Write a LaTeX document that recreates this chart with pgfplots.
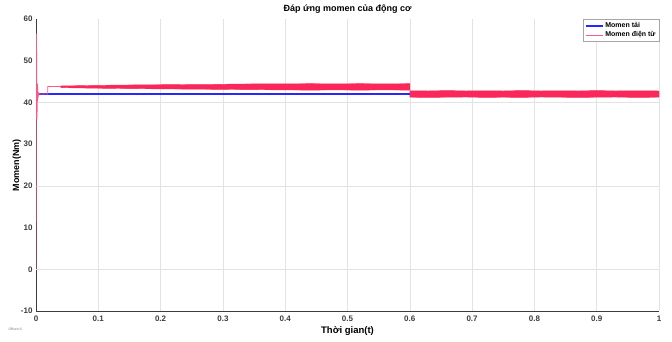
\documentclass[border=0pt]{standalone}
\usepackage{fontspec}
\setmainfont{Liberation Sans}
\usepackage{pgfplots}
\pgfplotsset{compat=1.18}
\definecolor{tai}{RGB}{40,40,250}
\definecolor{dt}{RGB}{250,40,90}
\definecolor{dtl}{RGB}{250,90,130}
\definecolor{tk}{RGB}{60,60,60}
\begin{document}
\begin{tikzpicture}[x=1pt,y=1pt]
\path[use as bounding box] (0,0) rectangle (672,341);
\begin{axis}[
  at={(36pt,30pt)}, anchor=south west,
  scale only axis, width=623pt, height=292pt,
  xmin=0, xmax=1, ymin=-10, ymax=60,
  axis lines*=left,
  axis line style={tk, line width=1pt},
  xtick={0,0.1,...,1}, ytick={-10,0,...,60},
  xticklabels={0,0.1,0.2,0.3,0.4,0.5,0.6,0.7,0.8,0.9,1},
  tick style={draw=none},
  xmajorgrids=true,
  major grid style={gray!22, line width=0.6pt},
  extra x ticks={0.3,0.6,0.9}, extra x tick labels={},
  extra x tick style={grid style={gray!60, line width=0.8pt}},
  extra y ticks={0,20,40}, extra y tick labels={},
  extra y tick style={ymajorgrids=true, grid style={gray!30, line width=0.7pt}},
  /pgf/number format/assume math mode=true,
  ticklabel style={font=\fontsize{8}{9}\selectfont\bfseries, text=tk},
  xticklabel style={yshift=-1.5pt},
  title={\fontsize{9}{10}\selectfont\bfseries Đáp ứng momen của động cơ},
  title style={yshift=-4pt},
  xlabel={\fontsize{9.5}{10}\selectfont\bfseries Thời gian(t)},
  ylabel={\fontsize{9}{10}\selectfont\bfseries Momen(Nm)},
  xlabel style={yshift=2pt},
  ylabel style={yshift=-7pt},
  legend style={at={(1,1)}, anchor=north east, draw=gray!70, line width=0.5pt,
    font=\fontsize{7}{8}\selectfont\bfseries, inner sep=1.2pt,
    row sep=-1.5pt, cells={anchor=west}, fill=white},
]
% band 0.02-0.6
\addplot[fill=dt, draw=dt, line width=0.4pt, forget plot] coordinates {
(0.040,43.95) (0.06,44.0) (0.08,44.05) (0.10,44.1) (0.13,44.15) (0.16,44.2)
(0.20,44.25) (0.24,44.3) (0.28,44.3) (0.32,44.4) (0.36,44.45) (0.40,44.45)
(0.44,44.5) (0.48,44.45) (0.52,44.5) (0.56,44.45) (0.60,44.5)
(0.60,42.95) (0.56,43.0) (0.52,42.95) (0.48,43.0) (0.44,42.95) (0.40,43.0)
(0.36,43.05) (0.32,43.1) (0.28,43.15) (0.24,43.2) (0.20,43.25) (0.16,43.3)
(0.13,43.35) (0.10,43.4) (0.08,43.45) (0.06,43.5) (0.040,43.55)
} -- cycle;
% band 0.6-1
\addplot[fill=dt, draw=dt, line width=0.4pt, forget plot] coordinates {
(0.600,42.8) (0.63,42.75) (0.66,42.85) (0.69,42.75) (0.72,42.8) (0.75,42.75)
(0.78,42.85) (0.81,42.75) (0.84,42.8) (0.87,42.75) (0.90,42.85) (0.93,42.75)
(0.96,42.8) (1.00,42.75)
(1.00,41.25) (0.96,41.2) (0.93,41.3) (0.90,41.25) (0.87,41.2) (0.84,41.25)
(0.81,41.3) (0.78,41.2) (0.75,41.25) (0.72,41.2) (0.69,41.3) (0.66,41.25)
(0.63,41.2) (0.600,41.25)
} -- cycle;
% load torque
\addplot[draw=tai, line width=1.4pt] coordinates {(0,42) (0.6,42)};
\addlegendentry{Momen tải}
% electromagnetic torque, start-up transient
\addplot[draw=dtl, line width=0.8pt] coordinates {
(0,0) (0.0008,56.5) (0.0016,36) (0.0024,44.5) (0.0032,41.2) (0.0045,42.3)
(0.006,42) (0.019,42) (0.019,43.8) (0.040,43.8)
};
\addlegendentry{Momen điện từ}
\end{axis}
\node[anchor=west, font=\fontsize{3.5}{4}\selectfont, text=gray] at (5,12) {Offset=0};
\end{tikzpicture}
\end{document}
